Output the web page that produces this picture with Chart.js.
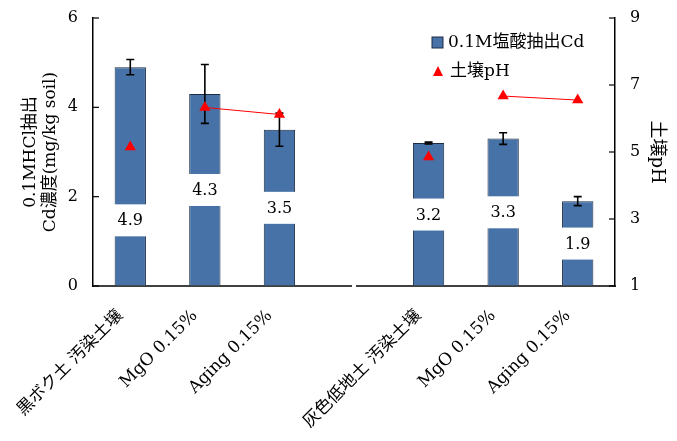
<!DOCTYPE html>
<html><head><meta charset="utf-8">
<script src="https://cdn.jsdelivr.net/npm/chart.js@4"></script>
<style>html,body{margin:0;padding:0;background:#fff}#wrap{width:677px;height:441px}</style>
</head><body><div id="wrap"><canvas id="c"></canvas></div>
<script>
const categories = ['黒ボク土 汚染土壌','MgO 0.15%','Aging 0.15%','','灰色低地土 汚染土壌','MgO 0.15%','Aging 0.15%'];
const cdValues = [4.9, 4.3, 3.5, null, 3.2, 3.3, 1.9];
const cdErrors = [0.17, 0.66, 0.37, null, 0.02, 0.13, 0.10];
const phValues = [5.15, 6.33, 6.12, null, 4.85, 6.67, 6.55];
const cdTicks = [0, 2, 4, 6];
const phTicks = [1, 3, 5, 7, 9];

const FONT = "'DejaVu Serif', 'Noto Sans CJK JP', serif";
const BAR_COLOR = '#4672A8';
const BAR_BORDER = '#1c2d44';
const labelFrac = [0.3, 0.5, 0.5, null, 0.5, 0.5, 0.5];

const decor = {
  id: 'decor',
  afterDatasetDraw(chart, args) {
    if (args.index !== 0) return;
    const ctx = chart.ctx, y = chart.scales.y, meta = chart.getDatasetMeta(0);
    ctx.save();
    meta.data.forEach((bar, i) => {
      if (cdValues[i] == null) return;
      const cy = y.getPixelForValue(cdValues[i] * labelFrac[i]);
      const w = bar.width + 6;
      ctx.fillStyle = '#fff';
      ctx.fillRect(bar.x - w / 2, cy - 16, w, 32);
      ctx.fillStyle = '#000';
      ctx.font = '16px ' + FONT;
      ctx.textAlign = 'center';
      ctx.textBaseline = 'middle';
      ctx.fillText(cdValues[i].toFixed(1), bar.x, cy + 1);
    });
    ctx.strokeStyle = '#000';
    ctx.lineWidth = 1.6;
    meta.data.forEach((bar, i) => {
      if (cdValues[i] == null) return;
      const t = y.getPixelForValue(cdValues[i] + cdErrors[i]);
      const b = y.getPixelForValue(cdValues[i] - cdErrors[i]);
      ctx.beginPath();
      ctx.moveTo(bar.x, t); ctx.lineTo(bar.x, b);
      ctx.moveTo(bar.x - 4, t); ctx.lineTo(bar.x + 4, t);
      ctx.moveTo(bar.x - 4, b); ctx.lineTo(bar.x + 4, b);
      ctx.stroke();
    });
    ctx.restore();
  },
  afterDraw(chart) {
    const ctx = chart.ctx, a = chart.chartArea;
    ctx.save();
    ctx.strokeStyle = '#000';
    ctx.lineWidth = 1.2;
    chart.scales.y.ticks.forEach(t => {
      const py = chart.scales.y.getPixelForValue(t.value);
      ctx.beginPath(); ctx.moveTo(a.left, py); ctx.lineTo(a.left + 6, py); ctx.stroke();
    });
    chart.scales.y2.ticks.forEach(t => {
      const py = chart.scales.y2.getPixelForValue(t.value);
      ctx.beginPath(); ctx.moveTo(a.right, py); ctx.lineTo(a.right - 6, py); ctx.stroke();
    });
    const gx = chart.scales.x.getPixelForValue(3);
    ctx.fillStyle = '#fff';
    ctx.fillRect(gx - 2, a.bottom - 3, 4, 6);
    // legend
    const lx = a.right - 183, ly = a.top + 25;
    ctx.fillStyle = BAR_COLOR; ctx.strokeStyle = BAR_BORDER; ctx.lineWidth = 1;
    ctx.fillRect(lx, ly - 6, 11, 11); ctx.strokeRect(lx, ly - 6, 11, 11);
    ctx.fillStyle = '#000';
    ctx.font = '17px ' + FONT;
    ctx.textAlign = 'left'; ctx.textBaseline = 'middle';
    ctx.fillText(chart.data.datasets[0].label, lx + 16, ly);
    ctx.fillStyle = 'red';
    ctx.beginPath();
    ctx.moveTo(lx + 6, ly + 23); ctx.lineTo(lx + 11, ly + 33); ctx.lineTo(lx + 1, ly + 33); ctx.closePath(); ctx.fill();
    ctx.fillStyle = '#000';
    ctx.fillText(chart.data.datasets[1].label, lx + 18, ly + 29);
    ctx.restore();
  }
};

new Chart(document.getElementById('c'), {
  data: {
    labels: categories,
    datasets: [
      {
        type: 'bar', label: '0.1M塩酸抽出Cd', data: cdValues, yAxisID: 'y', order: 1,
        backgroundColor: BAR_COLOR, borderColor: BAR_BORDER, borderWidth: 1,
        categoryPercentage: 1, barPercentage: 0.42
      },
      {
        type: 'line', label: '土壌pH', data: phValues, yAxisID: 'y2', order: 0,
        borderColor: 'red', borderWidth: 1, backgroundColor: 'red',
        pointStyle: 'triangle', pointRadius: 6.5, pointBorderWidth: 0, spanGaps: false,
        segment: { borderColor: c => (c.p0DataIndex === 0 || c.p0DataIndex === 4) ? 'transparent' : 'red' }
      }
    ]
  },
  options: {
    responsive: true, maintainAspectRatio: false, animation: false,
    devicePixelRatio: 1,
    layout: { padding: { top: 18, left: 0, right: 0, bottom: 0 } },
    plugins: { legend: { display: false }, tooltip: { enabled: false } },
    scales: {
      x: {
        grid: { display: false, drawTicks: false },
        border: { color: '#404040', width: 2 },
        ticks: { autoSkip: false, maxRotation: 45, minRotation: 45, color: '#000', padding: 20, labelOffset: -10, font: { family: FONT, size: 17 } },
        afterFit(s) { s.height = 155; s.paddingLeft = 0; s.paddingRight = 0; }
      },
      y: {
        position: 'left', min: 0, max: 6,
        afterBuildTicks(s) { s.ticks = cdTicks.map(v => ({ value: v })); },
        grid: { drawOnChartArea: false, drawTicks: false },
        border: { color: '#000', width: 1.5 },
        ticks: { color: '#000', padding: 15, font: { family: FONT, size: 16 } },
        title: { display: true, text: ['0.1MHCl抽出', 'Cd濃度(mg/kg soil)'], color: '#000', font: { family: FONT, size: 17 }, padding: { top: 20, bottom: 0 } },
        afterFit(s) { s.width = 93; s.paddingTop = 0; s.paddingBottom = 0; }
      },
      y2: {
        position: 'right', min: 1, max: 9,
        afterBuildTicks(s) { s.ticks = phTicks.map(v => ({ value: v })); },
        grid: { drawOnChartArea: false, drawTicks: false },
        border: { color: '#000', width: 1.5 },
        ticks: { color: '#000', padding: 15, font: { family: FONT, size: 16 } },
        title: { display: true, text: '土壌pH', color: '#000', font: { family: FONT, size: 18 }, padding: { top: 10, bottom: 0 } },
        afterFit(s) { s.width = 62; s.paddingTop = 0; s.paddingBottom = 0; }
      }
    }
  },
  plugins: [decor]
});
</script></body></html>
